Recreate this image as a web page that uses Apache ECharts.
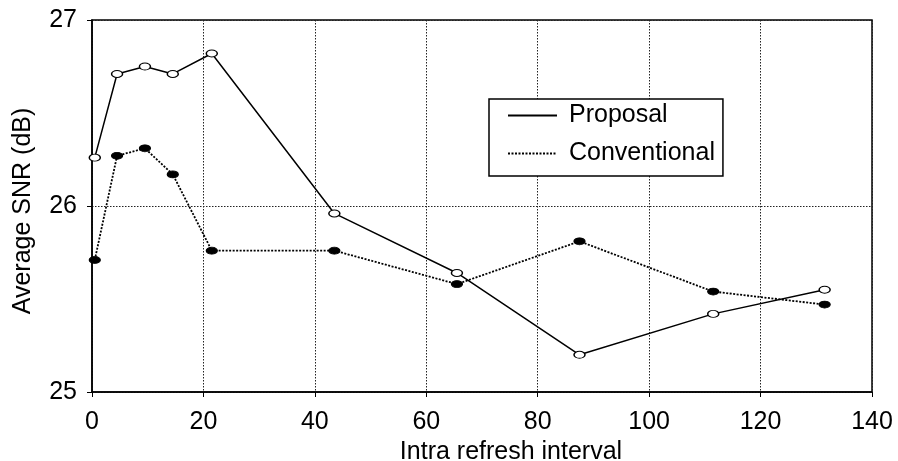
<!DOCTYPE html>
<html>
<head>
<meta charset="utf-8">
<script src="https://cdn.jsdelivr.net/npm/echarts@6/dist/echarts.min.js"></script>
<style>
  html, body { margin: 0; padding: 0; background: #fff; }
  #chart { width: 898px; height: 461px; }
</style>
</head>
<body>
<div id="chart"></div>
<script>
// Intra refresh interval (x) and average SNR in dB for each method
const intervals = [0.5, 4.5, 9.5, 14.5, 21.5, 43.5, 65.5, 87.5, 111.5, 131.5];
const proposal = [26.26, 26.71, 26.75, 26.71, 26.82, 25.96, 25.64, 25.20, 25.42, 25.55];
const conventional = [25.71, 26.27, 26.31, 26.17, 25.76, 25.76, 25.58, 25.81, 25.54, 25.47];
const seriesNames = ['Proposal', 'Conventional'];
const xTitle = 'Intra refresh interval';
const yTitle = 'Average SNR (dB)';

const FONT = "'Liberation Sans', Arial, Helvetica, sans-serif";
const pairs = (xs, ys) => xs.map((x, i) => [x, ys[i]]);

const chart = echarts.init(document.getElementById('chart'), null, { renderer: 'canvas' });

const axisCommon = {
  axisLine: { show: true, onZero: false, lineStyle: { color: '#000', width: 1.5 } },
  axisTick: { show: true, inside: false, length: 5, lineStyle: { color: '#000', width: 1 } },
  splitLine: { show: true, lineStyle: { color: '#222', width: 1, type: [1.5, 1.5] } },
  axisLabel: { color: '#000', fontFamily: FONT, fontSize: 25 },
  nameTextStyle: { color: '#000', fontFamily: FONT, fontSize: 25 }
};

chart.setOption({
  backgroundColor: '#fff',
  animation: false,
  grid: {
    left: 92, right: 26, top: 20, bottom: 69,
    containLabel: false, outerBoundsMode: 'none',
    show: true, borderColor: '#000', borderWidth: 1.5, backgroundColor: 'transparent'
  },
  xAxis: Object.assign({}, axisCommon, {
    type: 'value', min: 0, max: 140, interval: 20,
    name: xTitle, nameLocation: 'middle', nameGap: 45,
    nameTextStyle: Object.assign({}, axisCommon.nameTextStyle, { padding: [0, 0, 0, 58] }),
    axisLabel: Object.assign({}, axisCommon.axisLabel, { margin: 18 })
  }),
  yAxis: Object.assign({}, axisCommon, {
    type: 'value', min: 25, max: 27, interval: 1,
    name: yTitle, nameLocation: 'middle', nameGap: 56, nameRotate: 90,
    nameTextStyle: Object.assign({}, axisCommon.nameTextStyle, { padding: [0, 10, 0, 0] }),
    axisLabel: Object.assign({}, axisCommon.axisLabel, { margin: 15, padding: [5, 0, 0, 0] })
  }),
  legend: {
    orient: 'vertical',
    left: 489, top: 99,
    padding: [4, 8, 10, 18],
    itemGap: 13,
    itemWidth: 49, itemHeight: 14,
    backgroundColor: '#fff',
    borderColor: '#000', borderWidth: 1.5, borderRadius: 0,
    itemStyle: { opacity: 0 },
    textStyle: { color: '#000', fontFamily: FONT, fontSize: 25, padding: [0, 0, 0, 7] },
    data: seriesNames
  },
  series: [
    {
      name: seriesNames[0], type: 'line',
      data: pairs(intervals, proposal),
      symbol: 'circle', symbolSize: [11, 7],
      itemStyle: { color: '#fff', borderColor: '#000', borderWidth: 1.2 },
      lineStyle: { color: '#000', width: 1.5, type: 'solid' },
      z: 3
    },
    {
      name: seriesNames[1], type: 'line',
      data: pairs(intervals, conventional),
      symbol: 'circle', symbolSize: [11, 7],
      itemStyle: { color: '#000', borderColor: '#000', borderWidth: 1 },
      lineStyle: { color: '#000', width: 1.8, type: [2, 1.5] },
      z: 2
    }
  ]
});
</script>
</body>
</html>
